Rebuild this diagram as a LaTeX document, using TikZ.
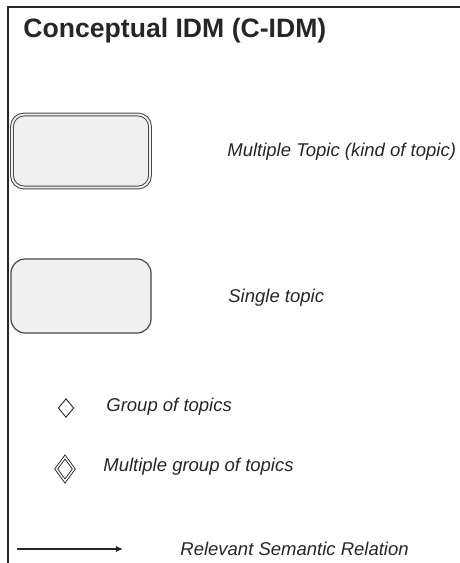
\documentclass[tikz,border=0pt]{standalone}
\usepackage{fontspec}
\setmainfont{Liberation Sans}
\usepackage{xcolor}
\usepackage{tikz}
\usetikzlibrary{shapes.geometric, arrows.meta, positioning}
\definecolor{boxfill}{HTML}{F0F0F0}
\definecolor{ink}{HTML}{262626}
\tikzset{
  topic/.style={draw=ink!85, fill=boxfill, rounded corners=6pt, minimum width=70pt, minimum height=37pt, inner sep=0pt},
  multitopic/.style={topic, double=boxfill, line width=0.5pt, double distance=0.9pt, minimum width=69pt, minimum height=36.5pt},
  singletopic/.style={topic, line width=0.6pt, rounded corners=7pt},
  grp/.style={draw=ink, diamond, inner sep=0pt, line width=0.45pt, minimum width=7.8pt, minimum height=9.4pt, aspect=0.8},
  mgrp/.style={grp, double=white, line width=0.45pt, double distance=0.7pt, minimum width=9pt, minimum height=12.2pt},
  legend/.style={anchor=west, inner sep=0pt, font=\fontsize{9.25pt}{11pt}\selectfont\itshape, text=ink},
  arr/.style={-{Latex[length=3.6pt, width=3.2pt]}, line width=0.6pt, draw=ink},
}
\begin{document}
\begin{tikzpicture}[x=0.5pt, y=-0.5pt]
  \useasboundingbox (0,0) rectangle (460,563);
  % frame, cut off on the right and at the bottom
  \draw[line width=1pt, ink] (8,563) -- (8,7) -- (460,7);
  \node[anchor=base west, inner sep=0pt, font=\fontsize{13.3pt}{15pt}\selectfont\bfseries, text=ink] (title) at (23,37.5) {Conceptual IDM (C-IDM)};
  % topics
  \node[multitopic] (multi) at (81,151) {};
  \node[singletopic] (single) at (81,296) {};
  \node[legend] (multitxt) at (227,152) {Multiple Topic (kind of topic)};
  \node[legend] (singletxt) at (228,298) {Single topic};
  % groups
  \node[grp] (group) at (66,408) {};
  \node[mgrp] (mgroup) at (65,469) {};
  \node[legend] (grouptxt) at (106,407) {Group of topics};
  \node[legend] (mgrouptxt) at (103,467) {Multiple group of topics};
  % relation
  \coordinate (relA) at (17,549);
  \coordinate (relB) at (123,549);
  \draw[arr] (relA) -- (relB);
  \node[legend] (reltxt) at (180,549) {Relevant Semantic Relation};
\end{tikzpicture}
\end{document}
